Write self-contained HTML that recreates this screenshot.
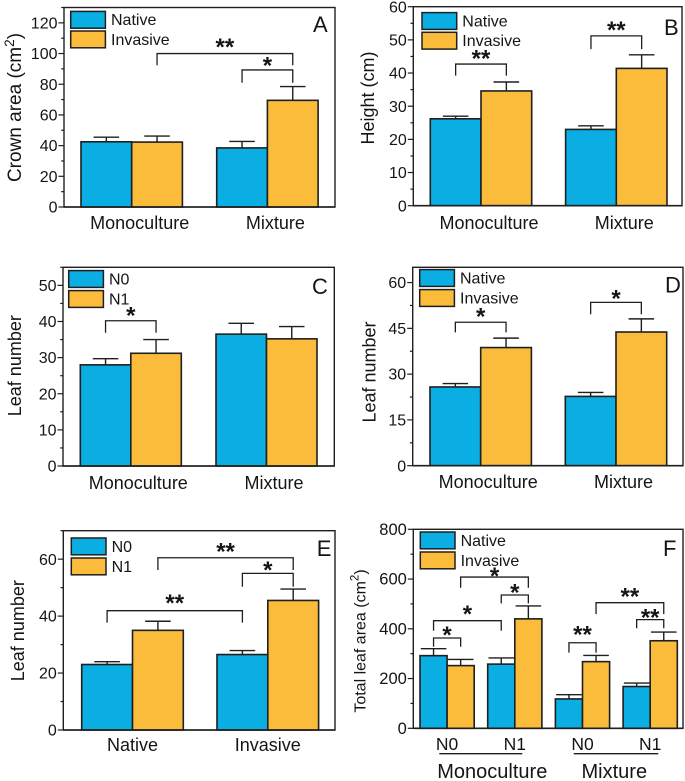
<!DOCTYPE html>
<html lang="en">
<head>
<meta charset="utf-8">
<title>Six-panel bar chart of native and invasive plant traits</title>
<style>
html,body{margin:0;padding:0;background:#fff;width:685px;height:781px;overflow:hidden}
svg{display:block;font-family:"Liberation Sans",Arial,sans-serif}
text{fill:#151515}
</style>
</head>
<body>
<svg id="figure" xmlns="http://www.w3.org/2000/svg" width="685" height="781" viewBox="0 0 685 781"></svg>
<script>
// Panel A
const aNative = [42.5, 38.5];
const aInvasive = [42.3, 69.5];
const aNativeTop = [45.5, 42.7];
const aInvasiveTop = [46.2, 78.5];
const aCategories = ['Monoculture', 'Mixture'];
const aLegend = ['Native', 'Invasive'];
const aTicks = ['0', '20', '40', '60', '80', '100', '120'];
const aBrackets = [[1, 3, 100, 92.4, '**', 106.5], [2, 3, 89.3, 81, '*', 94.5]];
// Panel B
const bNative = [26.2, 23];
const bInvasive = [34.6, 41.4];
const bNativeTop = [27, 24.1];
const bInvasiveTop = [37.3, 45.5];
const bCategories = ['Monoculture', 'Mixture'];
const bLegend = ['Native', 'Invasive'];
const bTicks = ['0', '10', '20', '30', '40', '50', '60'];
const bBrackets = [[0, 1, 42.7, 39.2, '**', 45.5], [2, 3, 51.2, 47.2, '**', 54]];
// Panel C
const cNative = [28, 36.5];
const cInvasive = [31.2, 35.2];
const cNativeTop = [29.7, 39.5];
const cInvasiveTop = [35, 38.6];
const cCategories = ['Monoculture', 'Mixture'];
const cLegend = ['N0', 'N1'];
const cTicks = ['0', '10', '20', '30', '40', '50'];
const cBrackets = [[0, 1, 40.2, 36.9, '*', 42.6]];
// Panel D
const dNative = [25.8, 22.7];
const dInvasive = [38.7, 43.8];
const dNativeTop = [26.9, 24];
const dInvasiveTop = [41.8, 48.1];
const dCategories = ['Monoculture', 'Mixture'];
const dLegend = ['Native', 'Invasive'];
const dTicks = ['0', '15', '30', '45', '60'];
const dBrackets = [[0, 1, 47, 43.7, '*', 50], [2, 3, 53.5, 49.6, '*', 56]];
// Panel E
const eNative = [23, 26.5];
const eInvasive = [35, 45.5];
const eNativeTop = [24, 27.9];
const eInvasiveTop = [38.2, 49.5];
const eCategories = ['Native', 'Invasive'];
const eLegend = ['N0', 'N1'];
const eTicks = ['0', '20', '40', '60'];
const eBrackets = [[1, 3, 60.5, 56.2, '**', 64], [2, 3, 55, 50.3, '*', 57.5], [0, 2, 41.9, 37.7, '**', 45.8]];
// Panel F
const fNative = [292, 258, 118, 168];
const fInvasive = [252, 440, 268, 352];
const fNativeTop = [320, 283, 135, 182];
const fInvasiveTop = [277, 492, 293, 387];
const fCategories = ['N0', 'N1', 'N0', 'N1'];
const fLegend = ['Native', 'Invasive'];
const fTicks = ['0', '200', '400', '600', '800'];
const fGroups = ['Monoculture', 'Mixture'];
const fBrackets = [[0, 1, 363, 328, '*', 390], [0, 2, 432.6, 392, '*', 474], [1, 3, 608, 565, '*', 627], [2, 3, 536, 502, '*', 561], [4, 5, 344, 304, '**', 391], [5, 7, 505, 459, '**', 543], [6, 7, 437, 402, '**', 459]];

const SVG_NS = 'http://www.w3.org/2000/svg';
const figure = document.getElementById('figure');
const INK = '#1f1f1f';
const BLUE = '#0AAEE2';
const ORANGE = '#FBBC3C';

function make(tag, attrs, parent, text) {
  const node = document.createElementNS(SVG_NS, tag);
  for (const key in attrs) node.setAttribute(key, attrs[key]);
  if (text !== undefined) node.textContent = text;
  parent.appendChild(node);
  return node;
}

function drawPanel(p) {
  const g = make('g', {}, figure);
  
  

  const y = v => p.bottom - (v / p.max) * (p.bottom - p.top);
  const barX = i => p.x0 + Math.floor(i / 2) * p.step + (i % 2) * p.barW;
  const barMid = i => barX(i) + p.barW / 2;

  // frame
  const frame = make('rect', {x: p.left, y: p.top, width: p.right - p.left, height: p.bottom - p.top, fill: 'none', stroke: INK, 'stroke-width': 1.4}, g);
  
  

  // ticks
  for (let v = 0; v <= p.max + 1e-6; v += p.minor) {
    const isMajor = Math.abs(v / p.major - Math.round(v / p.major)) < 1e-6;
    const tick = make('line', {x1: p.left - (isMajor ? 5.5 : 2.8), x2: p.left, y1: y(v), y2: y(v), stroke: INK, 'stroke-width': 1.2}, g);
    
    
  }
  p.ticks.forEach(label => {
    const t = make('text', {x: p.left - 6.5, y: y(Number(label)) + 5.6, 'text-anchor': 'end', 'font-size': p.tickSize}, g, label);
    
    
  });

  // y title
  const title = make('text', {transform: 'translate(' + p.titleX + ',' + p.titleY + ') rotate(-90)', 'text-anchor': 'middle', 'font-size': p.titleSize}, g);
  
  
  if (p.titleUnit) {
    make('tspan', {}, title, p.title + ' (cm');
    make('tspan', {dy: -7, 'font-size': p.titleSize * 0.72}, title, '2');
    make('tspan', {dy: 7}, title, ')');
  } else {
    title.textContent = p.title;
  }

  // bars and error bars
  p.native.forEach((_, k) => {
    [[p.native, p.nativeTop, BLUE, 'native'], [p.invasive, p.invasiveTop, ORANGE, 'invasive']].forEach((s, j) => {
      const i = k * 2 + j;
      const val = s[0][k];
      const topVal = s[1][k];
      const cx = barMid(i);
      const stem = make('line', {x1: cx, x2: cx, y1: y(val), y2: y(topVal), stroke: INK, 'stroke-width': 1.4}, g);
      
      
      const cap = make('line', {x1: cx - p.capW, x2: cx + p.capW, y1: y(topVal), y2: y(topVal), stroke: INK, 'stroke-width': 1.4}, g);
      
      
      const bar = make('rect', {x: barX(i), y: y(val), width: p.barW, height: y(0) - y(val), fill: s[2], stroke: INK, 'stroke-width': 1.6}, g);
      
      
    });
  });

  // bottom axis line drawn on top
  const axis = make('line', {x1: p.left, x2: p.right, y1: p.bottom, y2: p.bottom, stroke: INK, 'stroke-width': 1.6}, g);
  
  

  // category labels
  p.categories.forEach((label, k) => {
    const t = make('text', {x: barX(k * 2 + 1) + p.catDx, y: p.catY, 'text-anchor': 'middle', 'font-size': p.catSize}, g, label);
    
    
  });

  // significance brackets
  p.brackets.forEach(b => {
    const x1 = barMid(b[0]);
    const x2 = barMid(b[1]);
    const path = make('path', {d: 'M' + x1 + ' ' + y(b[3]) + 'V' + y(b[2]) + 'H' + x2 + 'V' + y(b[3]), fill: 'none', stroke: INK, 'stroke-width': 1.3}, g);
    
    
    const star = make('text', {x: (x1 + x2) / 2, y: y(b[5]) + 11.5, 'text-anchor': 'middle', 'font-size': 24, 'font-weight': 'bold'}, g, b[4]);
    
    
  });

  // legend
  p.legend.forEach((label, k) => {
    const swatch = make('rect', {x: p.legX, y: p.legY + k * p.legStep, width: 34.7, height: 16.8, fill: k ? ORANGE : BLUE, stroke: INK, 'stroke-width': 1.5}, g);
    
    
    const t = make('text', {x: p.legX + 40.3, y: p.legY + k * p.legStep + 13.8, 'font-size': 16}, g, label);
    
    
  });

  // panel letter
  const letter = make('text', {x: p.letterX, y: p.letterY, 'font-size': 22}, g, p.id);
  
  
}

drawPanel({id: 'A', left: 64, right: 335, top: 7.5, bottom: 207, max: 130, major: 20, minor: 10, ticks: aTicks, tickSize: 16,
  title: 'Crown area', titleUnit: true, titleX: 21, titleY: 107.5, titleSize: 19,
  native: aNative, invasive: aInvasive, nativeTop: aNativeTop, invasiveTop: aInvasiveTop, categories: aCategories, catDx: 8, catY: 229, catSize: 18,
  x0: 81, barW: 50.7, step: 135.7, capW: 12.8, brackets: aBrackets, legend: aLegend, legX: 70.7, legY: 11.4, legStep: 19.6, letterX: 313, letterY: 32});

drawPanel({id: 'B', left: 413.3, right: 682, top: 6.7, bottom: 205.7, max: 60, major: 10, minor: 5, ticks: bTicks, tickSize: 16,
  title: 'Height (cm)', titleUnit: false, titleX: 374, titleY: 98, titleSize: 18,
  native: bNative, invasive: bInvasive, nativeTop: bNativeTop, invasiveTop: bInvasiveTop, categories: bCategories, catDx: 8, catY: 229, catSize: 18,
  x0: 430.3, barW: 50.7, step: 135.3, capW: 12.8, brackets: bBrackets, legend: bLegend, legX: 422, legY: 12.6, legStep: 19.7, letterX: 664, letterY: 35});

drawPanel({id: 'C', left: 63, right: 334.3, top: 267.3, bottom: 466, max: 55, major: 10, minor: 5, ticks: cTicks, tickSize: 16,
  title: 'Leaf number', titleUnit: false, titleX: 21, titleY: 365.7, titleSize: 18,
  native: cNative, invasive: cInvasive, nativeTop: cNativeTop, invasiveTop: cInvasiveTop, categories: cCategories, catDx: 7.5, catY: 489, catSize: 18,
  x0: 80.3, barW: 50.5, step: 135.7, capW: 12.8, brackets: cBrackets, legend: cLegend, legX: 68.7, legY: 270.6, legStep: 20, letterX: 312, letterY: 294});

drawPanel({id: 'D', left: 412.7, right: 683, top: 267.3, bottom: 465.7, max: 65, major: 15, minor: 7.5, ticks: dTicks, tickSize: 16,
  title: 'Leaf number', titleUnit: false, titleX: 375.7, titleY: 372, titleSize: 18,
  native: dNative, invasive: dInvasive, nativeTop: dNativeTop, invasiveTop: dInvasiveTop, categories: dCategories, catDx: 7.5, catY: 488, catSize: 18,
  x0: 430, barW: 50.7, step: 135.3, capW: 12.8, brackets: dBrackets, legend: dLegend, legX: 419.7, legY: 269.6, legStep: 20, letterX: 665, letterY: 292.7});

drawPanel({id: 'E', left: 63.3, right: 335, top: 530.7, bottom: 730, max: 70, major: 20, minor: 10, ticks: eTicks, tickSize: 16,
  title: 'Leaf number', titleUnit: false, titleX: 24, titleY: 630.7, titleSize: 18,
  native: eNative, invasive: eInvasive, nativeTop: eNativeTop, invasiveTop: eInvasiveTop, categories: eCategories, catDx: 0, catY: 751, catSize: 18,
  x0: 81.7, barW: 50.8, step: 135.3, capW: 12.8, brackets: eBrackets, legend: eLegend, legX: 71.3, legY: 538, legStep: 20, letterX: 316.7, letterY: 556});

drawPanel({id: 'F', left: 413.3, right: 683, top: 529.3, bottom: 728.3, max: 800, major: 200, minor: 100, ticks: fTicks, tickSize: 16.5,
  title: 'Total leaf area', titleUnit: true, titleX: 365.7, titleY: 641, titleSize: 16,
  native: fNative, invasive: fInvasive, nativeTop: fNativeTop, invasiveTop: fInvasiveTop, categories: fCategories, catDx: 0, catY: 750, catSize: 17.5,
  x0: 420, barW: 27.1, step: 67.7, capW: 12.8, brackets: fBrackets, legend: fLegend, legX: 420.3, legY: 532, legStep: 20, letterX: 663, letterY: 556});

// Panel F group underlines and labels
const fGroupLayer = make('g', {}, figure);


fGroups.forEach((label, k) => {
  const line = make('line', {x1: k ? 573.7 : 439.3, x2: k ? 658.3 : 522.3, y1: 753.7, y2: 753.7, stroke: INK, 'stroke-width': 1.3}, fGroupLayer);
  
  
  const t = make('text', {x: k ? 614.3 : 492.3, y: 778, 'text-anchor': 'middle', 'font-size': 20}, fGroupLayer, label);
  
  
});
</script>
</body>
</html>
